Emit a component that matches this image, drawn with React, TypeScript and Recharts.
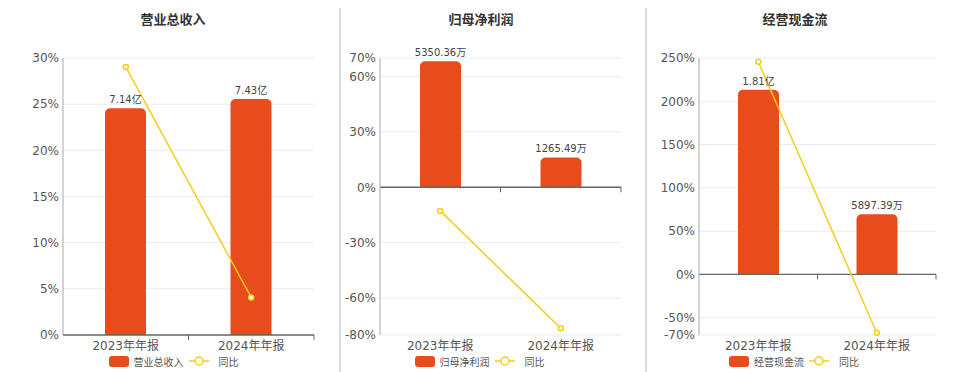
import React from 'react';
import {
  ComposedChart,
  Bar,
  Line,
  XAxis,
  YAxis,
  CartesianGrid,
  ReferenceLine,
  LabelList,
  Legend,
} from 'recharts';

// categories shared by the three panels
const categories = ['2023年年报', '2024年年报'];

// 营业总收入 (亿) and yoy %
const revenueValues = [7.14, 7.43];
const revenueLabels = ['7.14亿', '7.43亿'];
const revenueYoy = [29.03, 4.06];
const revenueTicks = [0, 5, 10, 15, 20, 25, 30];

// 归母净利润 (万) and yoy %
const profitValues = [5350.36, 1265.49];
const profitLabels = ['5350.36万', '1265.49万'];
const profitYoy = [-12.8, -76.35];
const profitTicks = [-80, -60, -30, 0, 30, 60, 70];

// 经营现金流 (万) and yoy %
const cashValues = [18100, 5897.39];
const cashLabels = ['1.81亿', '5897.39万'];
const cashYoy = [245.6, -67.4];
const cashTicks = [-70, -50, 0, 50, 100, 150, 200, 250];

const BAR = '#e84c1c';
const LINE = '#f6cd1b';
const FONT = '"DejaVu Sans", "Noto Sans CJK SC", sans-serif';

const H = 372;
const TOP = 58;
const BOTTOM = 335;

type PanelProps = {
  title: string;
  name: string;
  values: number[];
  labels: string[];
  yoy: number[];
  ticks: number[];
  left: number;
  width: number;
  yWidth: number;
  right: number;
  titleX: number;
  legendX: number;
  barRatio: number;
};

function LegendBox({ name }: { name: string }) {
  return (
    <div
      style={{
        display: 'flex',
        justifyContent: 'center',
        alignItems: 'center',
        height: 14,
        fontSize: 10,
        color: '#555',
        fontFamily: '"Noto Sans CJK SC", sans-serif',
      }}
    >
      <span style={{ width: 20, height: 11, borderRadius: 3, background: BAR, marginRight: 5 }} />
      <span>{name}</span>
      <svg width={20} height={12} style={{ marginLeft: 5, marginRight: 10 }}>
        <line x1={0} x2={20} y1={6} y2={6} stroke={LINE} strokeWidth={1.5} />
        <circle cx={10} cy={6} r={4} fill="#fff" stroke={LINE} strokeWidth={1.5} />
      </svg>
      <span>同比</span>
    </div>
  );
}

function Panel(p: PanelProps) {
  const data = categories.map((c, i) => ({
    name: c,
    amount: p.values[i],
    label: p.labels[i],
    yoy: p.yoy[i],
  }));
  const pMin = p.ticks[0];
  const pMax = p.ticks[p.ticks.length - 1];
  // hidden bar axis, zero aligned with the percent axis
  const amtTop = Math.max(...p.values) / p.barRatio;
  const amtDomain = [(amtTop * pMin) / pMax, amtTop];

  const plotW = p.width - p.yWidth - p.right;
  const band = plotW / categories.length;
  const zeroY = TOP + (pMax / (pMax - pMin)) * (BOTTOM - TOP);

  const renderTick = (props: any) => {
    const { x, y, payload } = props;
    return (
      <g>
        <line x1={x + band / 2} x2={x + band / 2} y1={zeroY} y2={zeroY + 5} stroke="#666" />
        <text x={x} y={y} dy="0.71em" textAnchor="middle" fontSize={12} fill="#555">
          {payload.value}
        </text>
      </g>
    );
  };

  return (
    <>
      <div
        style={{
          position: 'absolute',
          left: p.titleX - 80,
          width: 160,
          top: 9,
          height: 20,
          lineHeight: '20px',
          textAlign: 'center',
          fontSize: 13,
          fontWeight: 'bold',
          color: '#333',
          fontFamily: '"Noto Sans CJK SC", sans-serif',
        }}
      >
        {p.title}
      </div>
      <div style={{ position: 'absolute', left: p.left, top: 0 }}>
        <ComposedChart
          width={p.width}
          height={H}
          data={data}
          margin={{ top: TOP, right: p.right, left: 0, bottom: 4 }}
        >
          <CartesianGrid yAxisId="pct" vertical={false} stroke="#e6ebf4" />
          <XAxis
            dataKey="name"
            axisLine={false}
            tickLine={false}
            tickSize={0}
            tickMargin={6}
            height={19}
            interval={0}
            tick={renderTick}
          />
          <YAxis
            yAxisId="pct"
            orientation="left"
            width={p.yWidth}
            domain={[pMin, pMax]}
            ticks={p.ticks}
            interval={0}
            tickFormatter={(v) => `${v}%`}
            tickLine={false}
            tickSize={0}
            tickMargin={4}
            axisLine={{ stroke: '#a8a8a8' }}
            tick={{ fontSize: 12, fill: '#555' }}
          />
          <YAxis yAxisId="amt" orientation="right" hide width={0} domain={amtDomain} />
          <Legend
            verticalAlign="bottom"
            height={14}
            wrapperStyle={{ left: p.legendX - p.left - 100, width: 200, bottom: 4 }}
            content={() => <LegendBox name={p.name} />}
          />
          <Bar
            yAxisId="amt"
            dataKey="amount"
            name={p.name}
            fill={BAR}
            barSize={41}
            radius={[5, 5, 0, 0]}
            isAnimationActive={false}
          >
            <LabelList dataKey="label" position="top" offset={5} fontSize={10} fill="#444" />
          </Bar>
          <ReferenceLine yAxisId="pct" y={0} stroke="#666" strokeWidth={1.3} />
          <Line
            yAxisId="pct"
            dataKey="yoy"
            name="同比"
            stroke={LINE}
            strokeWidth={1.5}
            dot={{ r: 2.5, fill: '#fff', stroke: LINE, strokeWidth: 1.5 }}
            activeDot={false}
            isAnimationActive={false}
          />
        </ComposedChart>
      </div>
    </>
  );
}

export default function App() {
  return (
    <div
      style={{
        position: 'absolute',
        left: 0,
        top: 0,
        width: 960,
        height: H,
        background: '#fff',
        fontFamily: FONT,
        overflow: 'hidden',
      }}
    >
      <Panel
        title="营业总收入"
        name="营业总收入"
        values={revenueValues}
        labels={revenueLabels}
        yoy={revenueYoy}
        ticks={revenueTicks}
        left={0}
        width={330}
        yWidth={63}
        right={16}
        titleX={173}
        legendX={173.5}
        barRatio={0.852}
      />
      <Panel
        title="归母净利润"
        name="归母净利润"
        values={profitValues}
        labels={profitLabels}
        yoy={profitYoy}
        ticks={profitTicks}
        left={340}
        width={300}
        yWidth={40}
        right={19}
        titleX={481}
        legendX={479.5}
        barRatio={0.975}
      />
      <Panel
        title="经营现金流"
        name="经营现金流"
        values={cashValues}
        labels={cashLabels}
        yoy={cashYoy}
        ticks={cashTicks}
        left={646}
        width={314}
        yWidth={53}
        right={24}
        titleX={795}
        legendX={794}
        barRatio={0.853}
      />
      <div style={{ position: 'absolute', left: 339, top: 8, width: 2, height: H - 8, background: '#dcdcdc' }} />
      <div style={{ position: 'absolute', left: 645, top: 8, width: 2, height: H - 8, background: '#dcdcdc' }} />
    </div>
  );
}
